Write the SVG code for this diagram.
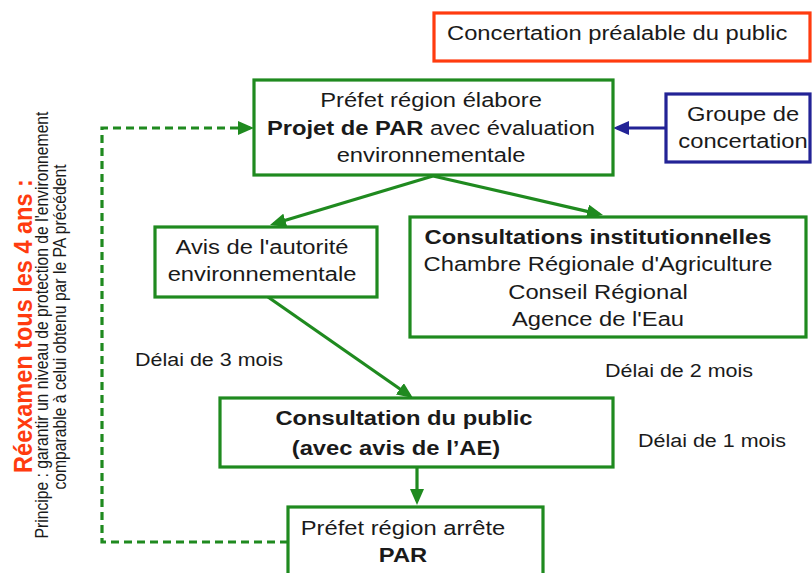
<svg xmlns="http://www.w3.org/2000/svg" width="812" height="573" viewBox="0 0 812 573">
<style>
.t{font-family:"Liberation Sans",Arial,sans-serif;font-size:21px;fill:#1a1a1a}
.d{font-family:"Liberation Sans",Arial,sans-serif;font-size:19px;fill:#1a1a1a}
.b{font-weight:bold}
.g{fill:#ffffff;stroke:#1f8a1f;stroke-width:3.2}
.c{fill:none;stroke:#1f8a1f;stroke-width:3.2}
</style>
<defs>
<marker id="ag" markerUnits="userSpaceOnUse" markerWidth="16" markerHeight="14" refX="12" refY="7" orient="auto"><path d="M0,0 L16,7 L0,14 z" fill="#1f8a1f"/></marker>
<marker id="ab" markerUnits="userSpaceOnUse" markerWidth="16" markerHeight="14" refX="12" refY="7" orient="auto"><path d="M0,0 L16,7 L0,14 z" fill="#232396"/></marker>
</defs>
<rect width="812" height="573" fill="#ffffff"/>

<g id="side-note">
<text transform="translate(32 326) scale(1.131 1) rotate(-90)" text-anchor="middle" style="font-family:'Liberation Sans',Arial,sans-serif;font-size:23.5px;font-weight:bold;fill:#ff3b0f">Réexamen tous les 4 ans :</text>
<text transform="translate(48 325) scale(1.131 1) rotate(-90)" text-anchor="middle" style="font-family:'Liberation Sans',Arial,sans-serif;font-size:15.7px;fill:#1a1a1a">Principe : garantir un niveau de protection de l'environnement</text>
<text transform="translate(66 327) scale(1.131 1) rotate(-90)" text-anchor="middle" style="font-family:'Liberation Sans',Arial,sans-serif;font-size:15.7px;fill:#1a1a1a">comparable à celui obtenu par le PA précédent</text>
</g>

<g id="connectors">
<line class="c" x1="433" y1="176" x2="273.8" y2="223.8" marker-end="url(#ag)"/>
<line class="c" x1="433" y1="176" x2="599.1" y2="214.1" marker-end="url(#ag)"/>
<line class="c" x1="268" y1="297" x2="409.7" y2="395.7" marker-end="url(#ag)"/>
<line class="c" x1="417" y1="467" x2="417" y2="501" marker-end="url(#ag)"/>
<line x1="666" y1="128" x2="617" y2="128" stroke="#232396" stroke-width="3.2" marker-end="url(#ab)"/>
<path class="c" d="M288,542 H102 V128 H250" stroke-dasharray="8 5" stroke-width="3.6" marker-end="url(#ag)"/>
</g>

<g id="concertation-prealable">
<rect x="434" y="13" width="376" height="48" fill="#ffffff" stroke="#ff3b0f" stroke-width="3.2"/>
<text class="t" transform="translate(447 40) scale(1.131 1)">Concertation préalable du public</text>
</g>

<g id="projet-par">
<rect class="g" x="254" y="80" width="359" height="95"/>
<text class="t" text-anchor="middle" transform="translate(431 107) scale(1.131 1)">Préfet région élabore</text>
<text class="t" text-anchor="middle" transform="translate(431 135) scale(1.131 1)"><tspan class="b">Projet de PAR</tspan> avec évaluation</text>
<text class="t" text-anchor="middle" transform="translate(431 162) scale(1.131 1)">environnementale</text>
</g>

<g id="groupe-concertation">
<rect x="666" y="94" width="144" height="68" fill="#ffffff" stroke="#232396" stroke-width="3.2"/>
<text class="t" text-anchor="middle" transform="translate(743 121) scale(1.131 1)">Groupe de</text>
<text class="t" text-anchor="middle" transform="translate(743 148) scale(1.131 1)">concertation</text>
</g>

<g id="avis-ae">
<rect class="g" x="155" y="227" width="222" height="70"/>
<text class="t" text-anchor="middle" transform="translate(262 254) scale(1.131 1)">Avis de l'autorité</text>
<text class="t" text-anchor="middle" transform="translate(262 281) scale(1.131 1)">environnementale</text>
</g>

<g id="consultations-institutionnelles">
<rect class="g" x="410" y="217" width="396" height="120"/>
<text class="t b" text-anchor="middle" transform="translate(598 244) scale(1.131 1)">Consultations institutionnelles</text>
<text class="t" text-anchor="middle" transform="translate(598 271) scale(1.131 1)">Chambre Régionale d'Agriculture</text>
<text class="t" text-anchor="middle" transform="translate(598 299) scale(1.131 1)">Conseil Régional</text>
<text class="t" text-anchor="middle" transform="translate(598 326) scale(1.131 1)">Agence de l'Eau</text>
</g>

<g id="consultation-public">
<rect class="g" x="220" y="398" width="393" height="69"/>
<text class="t b" text-anchor="middle" transform="translate(404 425) scale(1.131 1)">Consultation du public</text>
<text class="t b" text-anchor="middle" transform="translate(396 455) scale(1.131 1)">(avec avis de l’AE)</text>
</g>

<g id="prefet-arrete">
<rect class="g" x="288" y="507" width="255" height="90"/>
<text class="t" text-anchor="middle" transform="translate(403 535) scale(1.131 1)">Préfet région arrête</text>
<text class="t b" text-anchor="middle" transform="translate(403 562) scale(1.131 1)">PAR</text>
</g>

<g id="delais">
<text class="d" transform="translate(135 366) scale(1.131 1)">Délai de 3 mois</text>
<text class="d" transform="translate(605 377) scale(1.131 1)">Délai de 2 mois</text>
<text class="d" transform="translate(638 447) scale(1.131 1)">Délai de 1 mois</text>
</g>
</svg>
